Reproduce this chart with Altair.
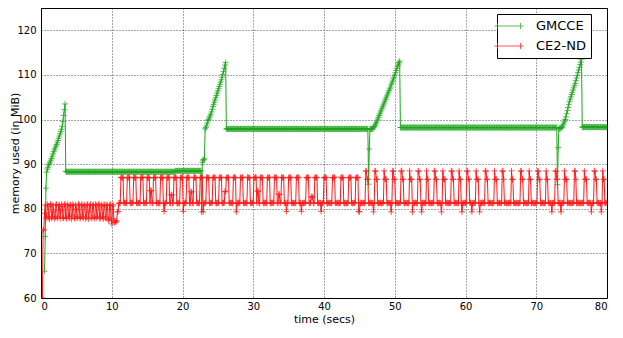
import altair as alt
import pandas as pd

series_names = ["GMCCE", "CE2-ND"]
series_colors = ["#1fa61f", "#ff1a1a"]
sample_step = 0.1
gmcce_start = 0.5
ce2nd_start = 0.2

gmcce_rows = [
    [66.0, 73.8, 84.6, 88.2, 88.9],
    [89.3, 89.8, 90.2, 90.5, 90.9, 91.3, 91.8, 92.3, 92.8, 93.2],
    [93.6, 94.0, 94.4, 94.8, 95.3, 95.8, 96.3, 96.8, 97.3, 97.8],
    [98.5, 99.6, 100.9, 102.2, 103.5, 88.4, 88.3, 88.3, 88.3, 88.3],
    [88.3, 88.3, 88.3, 88.3, 88.3, 88.3, 88.3, 88.3, 88.3, 88.3],
    [88.3, 88.3, 88.3, 88.3, 88.3, 88.3, 88.3, 88.3, 88.3, 88.3],
    [88.3, 88.3, 88.3, 88.3, 88.3, 88.3, 88.3, 88.3, 88.3, 88.3],
    [88.3, 88.3, 88.3, 88.3, 88.3, 88.3, 88.3, 88.3, 88.3, 88.3],
    [88.3, 88.3, 88.3, 88.3, 88.3, 88.3, 88.3, 88.3, 88.3, 88.3],
    [88.3, 88.3, 88.3, 88.3, 88.3, 88.3, 88.3, 88.3, 88.3, 88.3],
    [88.3, 88.3, 88.3, 88.3, 88.3, 88.3, 88.3, 88.3, 88.3, 88.3],
    [88.3, 88.3, 88.3, 88.3, 88.3, 88.3, 88.3, 88.3, 88.3, 88.3],
    [88.3, 88.3, 88.3, 88.3, 88.3, 88.3, 88.3, 88.3, 88.3, 88.3],
    [88.3, 88.3, 88.3, 88.3, 88.3, 88.3, 88.3, 88.3, 88.3, 88.3],
    [88.3, 88.3, 88.3, 88.3, 88.3, 88.3, 88.3, 88.3, 88.3, 88.3],
    [88.3, 88.3, 88.3, 88.3, 88.3, 88.3, 88.3, 88.3, 88.3, 88.3],
    [88.3, 88.3, 88.3, 88.3, 88.3, 88.3, 88.3, 88.3, 88.3, 88.3],
    [88.3, 88.3, 88.3, 88.3, 88.3, 88.3, 88.3, 88.3, 88.3, 88.3],
    [88.3, 88.3, 88.3, 88.3, 88.3, 88.3, 88.3, 88.3, 88.3, 88.3],
    [88.5, 88.5, 88.5, 88.5, 88.5, 88.5, 88.5, 88.5, 88.5, 88.5],
    [88.5, 88.5, 88.5, 88.5, 88.5, 88.5, 88.5, 88.5, 88.5, 88.5],
    [88.5, 88.5, 88.5, 88.5, 88.5, 88.5, 88.5, 88.5, 88.5, 88.5],
    [88.5, 88.5, 88.5, 88.5, 88.5, 88.5, 88.5, 79.3, 90.4, 90.9],
    [91.0, 91.2, 97.9, 98.2, 98.6, 99.2, 99.8, 100.0, 100.4, 100.8],
    [101.2, 101.7, 102.3, 102.9, 103.4, 103.9, 104.4, 104.9, 105.4, 105.9],
    [106.4, 106.9, 107.4, 107.9, 108.4, 108.9, 109.5, 110.1, 110.8, 111.5],
    [112.2, 112.8, 97.9, 97.9, 97.9, 97.9, 97.9, 97.9, 97.9, 97.9],
    [97.9, 97.9, 97.9, 97.9, 97.9, 97.9, 97.9, 97.9, 97.9, 97.9],
    [97.9, 97.9, 97.9, 97.9, 97.9, 97.9, 97.9, 97.9, 97.9, 97.9],
    [97.9, 97.9, 97.9, 97.9, 97.9, 97.9, 97.9, 97.9, 97.9, 97.9],
    [97.9, 97.9, 97.9, 97.9, 97.9, 97.9, 97.9, 97.9, 97.9, 97.9],
    [97.9, 97.9, 97.9, 97.9, 97.9, 97.9, 97.9, 97.9, 97.9, 97.9],
    [97.9, 97.9, 97.9, 97.9, 97.9, 97.9, 97.9, 97.9, 97.9, 97.9],
    [97.9, 97.9, 97.9, 97.9, 97.9, 97.9, 97.9, 97.9, 97.9, 97.9],
    [97.9, 97.9, 97.9, 97.9, 97.9, 97.9, 97.9, 97.9, 97.9, 97.9],
    [97.9, 97.9, 97.9, 97.9, 97.9, 97.9, 97.9, 97.9, 97.9, 97.9],
    [97.9, 97.9, 97.9, 97.9, 97.9, 97.9, 97.9, 97.9, 97.9, 97.9],
    [97.9, 97.9, 97.9, 97.9, 97.9, 97.9, 97.9, 97.9, 97.9, 97.9],
    [97.9, 97.9, 97.9, 97.9, 97.9, 97.9, 97.9, 97.9, 97.9, 97.9],
    [97.9, 97.9, 97.9, 97.9, 97.9, 97.9, 97.9, 97.9, 97.9, 97.9],
    [97.9, 97.9, 97.9, 97.9, 97.9, 97.9, 97.9, 97.9, 97.9, 97.9],
    [97.9, 97.9, 97.9, 97.9, 97.9, 97.9, 97.9, 97.9, 97.9, 97.9],
    [97.9, 97.9, 97.9, 97.9, 97.9, 97.9, 97.9, 97.9, 97.9, 97.9],
    [97.9, 97.9, 97.9, 97.9, 97.9, 97.9, 97.9, 97.9, 97.9, 97.9],
    [97.9, 97.9, 97.9, 97.9, 97.9, 97.9, 97.9, 97.9, 97.9, 97.9],
    [97.9, 97.9, 97.9, 97.9, 97.9, 97.9, 97.9, 97.9, 97.9, 97.9],
    [97.9, 97.9, 97.9, 85.5, 93.4, 97.9, 97.9, 97.9, 97.9, 97.9],
    [98.2, 98.4, 98.7, 99.0, 99.3, 99.7, 100.1, 100.5, 100.9, 101.3],
    [101.7, 102.1, 102.5, 102.9, 103.3, 103.7, 104.1, 104.5, 104.9, 105.3],
    [105.7, 106.1, 106.5, 106.9, 107.3, 107.8, 108.2, 108.6, 109.1, 109.5],
    [110.0, 110.5, 111.0, 111.5, 112.0, 112.4, 112.8, 113.1, 98.2, 98.2],
    [98.2, 98.2, 98.2, 98.2, 98.2, 98.2, 98.2, 98.2, 98.2, 98.2],
    [98.2, 98.2, 98.2, 98.2, 98.2, 98.2, 98.2, 98.2, 98.2, 98.2],
    [98.2, 98.2, 98.2, 98.2, 98.2, 98.2, 98.2, 98.2, 98.2, 98.2],
    [98.2, 98.2, 98.2, 98.2, 98.2, 98.2, 98.2, 98.2, 98.2, 98.2],
    [98.2, 98.2, 98.2, 98.2, 98.2, 98.2, 98.2, 98.2, 98.2, 98.2],
    [98.2, 98.2, 98.2, 98.2, 98.2, 98.2, 98.2, 98.2, 98.2, 98.2],
    [98.2, 98.2, 98.2, 98.2, 98.2, 98.2, 98.2, 98.2, 98.2, 98.2],
    [98.2, 98.2, 98.2, 98.2, 98.2, 98.2, 98.2, 98.2, 98.2, 98.2],
    [98.2, 98.2, 98.2, 98.2, 98.2, 98.2, 98.2, 98.2, 98.2, 98.2],
    [98.2, 98.2, 98.2, 98.2, 98.2, 98.2, 98.2, 98.2, 98.2, 98.2],
    [98.2, 98.2, 98.2, 98.2, 98.2, 98.2, 98.2, 98.2, 98.2, 98.2],
    [98.2, 98.2, 98.2, 98.2, 98.2, 98.2, 98.2, 98.2, 98.2, 98.2],
    [98.2, 98.2, 98.2, 98.2, 98.2, 98.2, 98.2, 98.2, 98.2, 98.2],
    [98.2, 98.2, 98.2, 98.2, 98.2, 98.2, 98.2, 98.2, 98.2, 98.2],
    [98.2, 98.2, 98.2, 98.2, 98.2, 98.2, 98.2, 98.2, 98.2, 98.2],
    [98.2, 98.2, 98.2, 98.2, 98.2, 98.2, 98.2, 98.2, 98.2, 98.2],
    [98.2, 98.2, 98.2, 98.2, 98.2, 98.2, 98.2, 98.2, 98.2, 98.2],
    [98.2, 98.2, 98.2, 98.2, 98.2, 98.2, 98.2, 98.2, 98.2, 98.2],
    [98.2, 98.2, 98.2, 98.2, 98.2, 98.2, 98.2, 98.2, 98.2, 98.2],
    [98.2, 98.2, 98.2, 98.2, 98.2, 98.2, 98.2, 98.2, 98.2, 98.2],
    [98.2, 98.2, 98.2, 98.2, 98.2, 98.2, 98.2, 98.2, 98.2, 98.2],
    [98.2, 98.2, 98.2, 98.2, 98.2, 98.2, 98.2, 98.2, 98.2, 98.2],
    [85.4, 93.7, 98.0, 98.0, 98.0, 98.1, 98.2, 98.4, 98.8, 99.2],
    [99.6, 100.0, 100.6, 101.3, 102.0, 102.7, 103.4, 104.0, 104.6, 105.1],
    [105.6, 106.1, 106.6, 107.1, 107.6, 108.1, 108.7, 109.3, 109.9, 110.5],
    [111.1, 111.7, 112.3, 112.9, 113.5, 98.3, 98.3, 98.3, 98.3, 98.3],
    [98.3, 98.3, 98.3, 98.3, 98.3, 98.3, 98.3, 98.3, 98.3, 98.3],
    [98.3, 98.3, 98.3, 98.3, 98.3, 98.3, 98.3, 98.3, 98.3, 98.3],
    [98.3, 98.3, 98.3, 98.3, 98.3, 98.3, 98.3, 98.3, 98.3, 98.3],
    [98.3],
]

ce2nd_rows = [
    [60.0, 75.1, 75.3, 79.0, 80.8, 77.9, 78.3, 81.0],
    [80.6, 78.0, 77.7, 80.9, 81.1, 77.9, 78.2, 80.8, 79.4, 77.8],
    [78.1, 80.9, 81.0, 77.9, 78.2, 80.7, 80.9, 77.8, 79.6, 81.0],
    [80.5, 77.9, 78.0, 80.9, 81.1, 78.1, 77.8, 80.6, 81.0, 78.3],
    [77.9, 80.8, 80.9, 77.7, 78.4, 81.0, 80.7, 78.0, 77.8, 80.9],
    [79.9, 77.9, 78.2, 81.1, 80.8, 77.8, 78.0, 80.7, 81.0, 78.2],
    [77.9, 80.9, 80.6, 77.8, 78.1, 81.0, 80.9, 77.7, 79.3, 80.8],
    [81.0, 78.0, 77.9, 80.7, 80.9, 78.1, 77.8, 81.0, 80.8, 77.9],
    [78.3, 80.9, 81.1, 77.8, 78.0, 80.6, 80.9, 78.2, 77.7, 81.0],
    [80.8, 77.9, 78.1, 80.9, 80.7, 77.6, 77.3, 80.8, 81.0, 77.8],
    [76.6, 80.6, 80.9, 77.4, 76.9, 77.2, 77.0, 77.3, 79.3, 79.4],
    [81.3, 81.2, 81.3, 87.0, 87.1, 86.9, 87.0, 81.3, 81.4, 81.3],
    [81.2, 81.3, 87.0, 86.9, 87.1, 87.0, 81.3, 81.2, 81.3, 81.4],
    [81.3, 87.0, 87.0, 86.9, 87.1, 81.3, 81.2, 81.4, 81.3, 81.3],
    [81.2, 87.0, 86.9, 87.0, 87.1, 81.3, 81.3, 81.2, 81.4, 81.3],
    [87.0, 87.1, 86.9, 87.0, 81.3, 84.1, 84.0, 81.3, 81.2, 87.0],
    [86.9, 87.0, 87.1, 81.3, 81.2, 81.4, 81.3, 81.3, 81.2, 87.0],
    [87.0, 86.9, 87.1, 81.3, 79.4, 81.3, 81.2, 81.4, 87.0, 86.9],
    [87.0, 87.1, 81.3, 81.2, 83.2, 83.1, 81.3, 81.3, 87.0, 86.9],
    [87.1, 87.0, 81.3, 81.2, 81.4, 81.3, 81.2, 87.0, 86.9, 87.0],
    [87.1, 79.4, 81.3, 81.2, 81.4, 81.3, 87.0, 86.9, 87.1, 87.0],
    [81.3, 81.2, 83.8, 83.8, 81.3, 81.2, 87.0, 87.1, 86.9, 87.0],
    [81.3, 81.4, 81.3, 81.2, 81.3, 87.0, 86.9, 87.1, 87.0, 79.3],
    [81.3, 81.2, 81.3, 81.4, 87.0, 87.1, 86.9, 87.0, 81.3, 81.2],
    [81.3, 81.4, 81.3, 87.0, 86.9, 87.1, 87.0, 81.3, 81.2, 81.3],
    [81.4, 81.3, 87.0, 87.0, 86.9, 87.1, 81.3, 81.2, 81.3, 81.3],
    [83.9, 83.8, 87.0, 86.9, 87.1, 87.0, 81.3, 81.2, 81.4, 81.3],
    [81.3, 81.2, 87.0, 87.1, 86.9, 87.0, 79.3, 81.3, 81.2, 81.4],
    [81.3, 81.3, 87.0, 86.9, 87.0, 87.1, 81.3, 81.2, 81.3, 81.4],
    [81.3, 81.2, 87.1, 87.0, 86.9, 87.0, 81.3, 81.3, 81.2, 81.4],
    [81.3, 87.0, 86.9, 87.1, 87.0, 81.3, 84.0, 83.9, 81.3, 81.2],
    [87.0, 87.1, 86.9, 87.0, 81.3, 81.2, 81.4, 81.3, 81.3, 81.2],
    [87.0, 86.9, 87.0, 87.1, 81.3, 81.2, 81.3, 81.4, 81.3, 81.3],
    [87.0, 87.1, 86.9, 87.0, 81.3, 81.2, 83.3, 83.2, 81.3, 81.4],
    [87.1, 86.9, 87.0, 87.0, 81.3, 81.2, 81.3, 79.4, 81.3, 81.3],
    [87.0, 86.9, 87.1, 87.0, 81.3, 81.2, 81.4, 81.3, 81.3, 81.2],
    [81.3, 87.0, 86.9, 87.1, 87.0, 81.3, 81.2, 81.4, 79.4, 81.3],
    [81.3, 81.2, 81.3, 81.4, 81.3, 87.0, 86.9, 87.1, 87.0, 81.3],
    [81.2, 81.3, 82.7, 82.7, 82.6, 81.3, 81.2, 87.0, 86.9, 87.1],
    [87.0, 81.3, 81.2, 81.3, 81.4, 81.3, 79.4, 81.3, 81.2, 81.3],
    [87.0, 86.9, 87.1, 87.0, 81.3, 81.2, 81.3, 81.4, 81.3, 81.3],
    [81.2, 81.3, 87.0, 86.9, 87.0, 87.1, 81.3, 81.2, 81.3, 81.4],
    [81.3, 81.3, 81.2, 81.3, 87.1, 86.9, 87.0, 87.0, 81.3, 81.2],
    [81.4, 81.3, 81.2, 81.3, 81.3, 87.0, 86.9, 87.1, 87.0, 81.3],
    [81.2, 81.3, 81.3, 81.4, 81.3, 87.0, 86.9, 87.1, 87.0, 79.4],
    [79.3, 81.3, 81.2, 81.3, 81.4, 81.3, 81.3, 81.2, 81.3, 88.5],
    [88.4, 86.6, 86.6, 81.3, 81.2, 81.3, 81.4, 81.3, 81.3, 81.2],
    [79.3, 81.3, 88.5, 88.4, 86.6, 86.6, 81.3, 81.2, 81.3, 81.4],
    [81.3, 81.3, 81.2, 81.3, 81.4, 88.5, 86.6, 86.6, 86.6, 81.2],
    [81.3, 81.4, 81.3, 81.3, 81.2, 79.3, 81.3, 88.5, 88.4, 86.6],
    [86.6, 81.3, 81.4, 81.3, 81.3, 81.2, 81.3, 81.3, 81.4, 88.4],
    [88.5, 86.6, 86.6, 81.3, 81.2, 81.3, 81.4, 81.3, 81.3, 81.2],
    [81.3, 88.5, 86.6, 86.6, 86.6, 79.3, 81.3, 81.2, 81.3, 81.4],
    [81.3, 81.2, 81.3, 88.5, 88.4, 86.6, 86.6, 81.3, 79.3, 81.3],
    [81.3, 81.4, 81.3, 81.3, 81.2, 88.5, 86.6, 86.6, 81.3, 81.4],
    [81.3, 81.2, 81.3, 81.3, 81.4, 81.3, 88.5, 88.4, 86.6, 86.6],
    [81.2, 81.3, 81.3, 81.4, 81.3, 81.2, 79.3, 81.3, 88.5, 86.6],
    [86.6, 86.6, 81.2, 81.3, 81.4, 81.3, 81.3, 81.2, 81.3, 81.3],
    [88.5, 88.4, 86.6, 86.6, 81.2, 81.3, 81.4, 81.3, 81.3, 81.2],
    [81.3, 88.5, 86.6, 86.6, 81.3, 79.3, 81.2, 81.3, 81.4, 81.3],
    [81.3, 81.2, 88.5, 88.4, 86.6, 86.6, 81.3, 81.4, 81.3, 79.3],
    [81.3, 81.2, 81.3, 81.4, 81.3, 88.5, 86.6, 86.6, 86.6, 81.3],
    [79.3, 81.3, 81.2, 81.3, 81.4, 81.3, 81.3, 81.2, 88.5, 88.4],
    [86.6, 86.6, 81.3, 81.2, 81.3, 81.4, 81.3, 81.3, 81.2, 81.3],
    [81.3, 88.5, 86.6, 86.6, 86.6, 81.2, 81.3, 81.4, 81.3, 81.3],
    [81.2, 81.3, 88.5, 88.4, 86.6, 81.3, 81.4, 81.3, 81.2, 81.3],
    [81.3, 81.3, 81.4, 81.3, 81.2, 88.5, 86.6, 86.6, 81.3, 81.3],
    [81.2, 81.3, 81.4, 81.3, 81.3, 81.2, 81.3, 81.3, 88.5, 88.4],
    [86.6, 86.6, 81.2, 81.3, 81.4, 81.3, 81.3, 81.2, 81.3, 81.3],
    [88.5, 86.6, 86.6, 81.2, 81.3, 81.4, 81.3, 81.3, 81.2, 81.3],
    [81.3, 81.4, 88.5, 88.4, 86.6, 86.6, 81.2, 81.3, 81.3, 81.4],
    [81.3, 81.2, 81.3, 81.3, 88.5, 86.6, 86.6, 81.4, 81.3, 81.2],
    [81.3, 81.3, 79.3, 81.3, 81.4, 81.3, 81.2, 88.5, 88.4, 86.6],
    [86.6, 81.3, 81.2, 81.3, 81.4, 79.3, 81.3, 81.3, 81.2, 81.3],
    [88.5, 86.6, 86.6, 86.6, 81.2, 81.3, 81.4, 81.3, 81.3, 81.2],
    [81.3, 81.3, 81.4, 81.3, 88.5, 88.4, 86.6, 81.2, 81.3, 81.3],
    [81.4, 81.3, 81.2, 81.3, 81.3, 81.4, 81.3, 81.2, 88.5, 86.6],
    [86.6, 86.6, 81.3, 81.2, 81.3, 81.4, 81.3, 81.3, 79.3, 81.3],
    [81.2, 81.3, 88.5, 88.4, 86.6, 86.6, 81.3, 81.4, 81.3, 81.2],
    [81.3, 81.3, 79.3, 81.3, 88.5, 86.6, 86.6, 81.2, 81.3, 81.4],
    [81.3],
]

x_ticks = [0, 10, 20, 30, 40, 50, 60, 70, 80]
y_ticks = [60, 70, 80, 90, 100, 110, 120]


def to_frame(name, start, rows):
    vals = [v for row in rows for v in row]
    return pd.DataFrame({
        "t": [round(start + i * sample_step, 2) for i in range(len(vals))],
        "v": vals,
        "series": name,
        "order": list(range(len(vals))),
    })


df = pd.concat([
    to_frame("GMCCE", gmcce_start, gmcce_rows),
    to_frame("CE2-ND", ce2nd_start, ce2nd_rows),
], ignore_index=True)

plus_path = "M-1,0H1M0,-1V1"
legend_path = "M-2.23,0H2.23M-1.77,-0.46V0.46M1.77,-0.46V0.46"

x_enc = alt.X("t:Q", scale=alt.Scale(domain=[0, 80], nice=False, zero=False),
              axis=alt.Axis(values=x_ticks, title="time (secs)", titleY=21,
                            titleBaseline="middle", labelPadding=3))
y_enc = alt.Y("v:Q", scale=alt.Scale(domain=[60, 125], nice=False, zero=False),
              axis=alt.Axis(values=y_ticks, title="memory used (in MiB)",
                            titleX=-26, titleBaseline="middle",
                            labelPadding=5))
color_enc = alt.Color(
    "series:N",
    scale=alt.Scale(domain=series_names, range=series_colors),
    legend=alt.Legend(
        title=None, orient="none", legendX=456, legendY=6,
        symbolType=legend_path, symbolSize=169, symbolStrokeWidth=1,
        symbolOffset=0,
        labelFont="DejaVu Sans", labelFontSize=13, labelColor="black",
        labelOffset=20, rowPadding=6, padding=5,
        strokeColor="black", fillColor="white", cornerRadius=0,
    ),
)

base = alt.Chart(df)
layers = []
for name in series_names:
    sub = base.transform_filter(alt.datum.series == name)
    layers.append(
        sub.mark_line(strokeWidth=1, clip=True).encode(
            x=x_enc, y=y_enc, color=color_enc, order="order:Q")
    )
    layers.append(
        sub.mark_point(shape=plus_path, filled=False, size=36, strokeWidth=1,
                       opacity=0.75, clip=True).encode(
            x=x_enc, y=y_enc, color=color_enc)
    )

chart = alt.layer(*layers).properties(
    width=566, height=290,
    autosize=alt.AutoSizeParams(type="none"),
    padding={"left": 33, "top": 0, "right": 8, "bottom": 27},
).configure_view(
    stroke="black", strokeWidth=1
).configure_axis(
    grid=True, gridColor="black", gridDash=[1, 2], gridOpacity=0.7, gridWidth=1,
    domain=False, ticks=False,
    labelFont="DejaVu Sans", labelFontSize=10, labelColor="black",
    titleFont="DejaVu Sans", titleFontSize=11, titleFontWeight="normal",
    titleColor="black",
)

chart.save("out.html", embed_options={"renderer": "svg", "actions": False})
